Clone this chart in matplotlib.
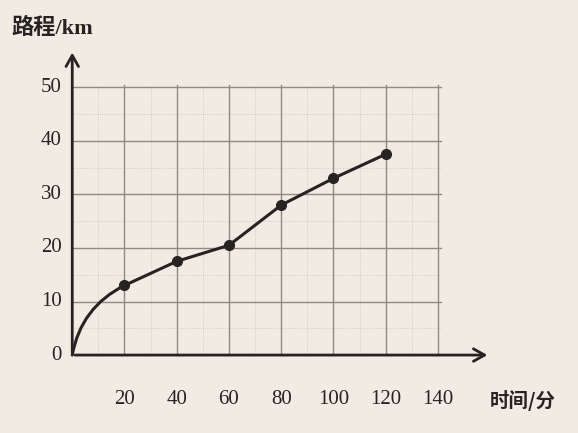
import matplotlib.pyplot as plt

plt.rcParams['font.family'] = ['Liberation Serif', 'Noto Sans CJK SC', 'DejaVu Sans']

# time (minutes) and distance (km)
minutes = [0, 20, 40, 60, 80, 100, 120]
km = [0, 13, 17.5, 20.5, 28, 33, 37.5]
x_ticks = [20, 40, 60, 80, 100, 120, 140]
y_ticks = [0, 10, 20, 30, 40, 50]

bg = '#f2ebe3'
ink = '#262322'
grid_c = '#8f8a86'

fig = plt.figure(figsize=(5.78, 4.33), dpi=100, facecolor=bg)
ax = fig.add_axes([0.125, 0.18, 0.723, 0.705])
ax.set_facecolor(bg)
ax.set_xlim(0, 160)
ax.set_ylim(0, 57)
for s in ax.spines.values():
    s.set_visible(False)

# grid
for gx in x_ticks:
    ax.plot([gx, gx], [0, 50.5], color=grid_c, lw=1.0, zorder=1)
for gy in y_ticks[1:]:
    ax.plot([0, 141], [gy, gy], color=grid_c, lw=1.0, zorder=1)
for gx in range(10, 141, 20):
    ax.plot([gx, gx], [0, 50.5], color=grid_c, lw=0.5, ls=':', alpha=0.5, zorder=1)
for gy in range(5, 51, 10):
    ax.plot([0, 141], [gy, gy], color=grid_c, lw=0.5, ls=':', alpha=0.5, zorder=1)

# axes with arrows
ax.annotate('', xy=(160, 0), xytext=(0, 0),
            arrowprops=dict(arrowstyle='->,head_length=0.8,head_width=0.45', color=ink, lw=2),
            annotation_clip=False)
ax.annotate('', xy=(0, 57), xytext=(0, 0),
            arrowprops=dict(arrowstyle='->,head_length=0.8,head_width=0.45', color=ink, lw=2),
            annotation_clip=False)

# curved first part, then straight segments
ax.annotate('', xy=(minutes[1], km[1]), xytext=(minutes[0], km[0]),
            arrowprops=dict(arrowstyle='-', color=ink, lw=2.2,
                            connectionstyle='arc3,rad=-0.25', shrinkA=0, shrinkB=0))
ax.plot(minutes[1:], km[1:], color=ink, lw=2.2, marker='o', ms=7, zorder=4)

ax.set_xticks([])
ax.set_yticks([])
for t in x_ticks:
    ax.text(t, -6.5, str(t), ha='center', va='top', fontsize=15, color=ink)
for t in y_ticks:
    ax.text(-4, t, str(t), ha='right', va='center', fontsize=15, color=ink)

ax.text(160, -6.5, '时间/分', ha='left', va='top', fontsize=14, color=ink,
        fontweight='bold', family=['Noto Sans CJK SC', 'DejaVu Sans'])
fig.text(0.02, 0.935, '路程/km', ha='left', va='center', fontsize=16, color=ink,
         fontweight='bold', family=['Liberation Serif', 'Noto Sans CJK SC'])

fig.savefig('out.png', dpi=100, facecolor=bg)
